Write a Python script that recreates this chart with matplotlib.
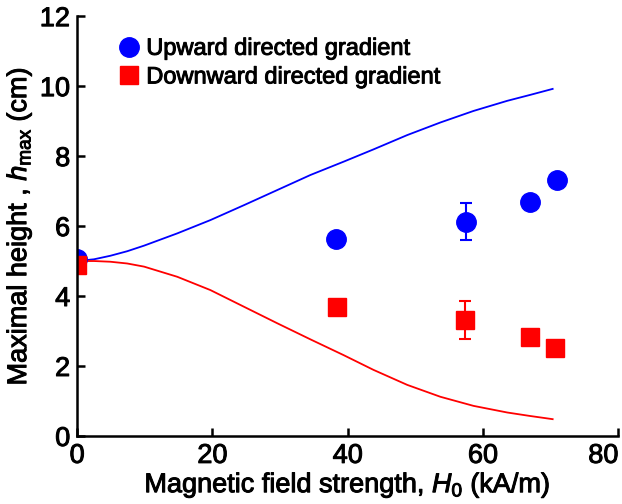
import matplotlib.pyplot as plt
import matplotlib.patheffects as pe

plt.rcParams['font.family'] = ['Liberation Sans', 'DejaVu Sans']
plt.rcParams['mathtext.fontset'] = 'custom'
plt.rcParams['mathtext.rm'] = 'Liberation Sans'
plt.rcParams['mathtext.it'] = 'Liberation Sans:italic'

# measured points
up_x = [0, 38.3, 57.5, 67.0, 70.9]
up_y = [5.05, 5.62, 6.12, 6.7, 7.33]
up_err = [0, 0, 0.53, 0, 0]

down_x = [0, 38.4, 57.4, 66.9, 70.7]
down_y = [4.88, 3.7, 3.31, 2.82, 2.51]
down_err = [0, 0, 0.54, 0, 0]

# model curves
curve_x = [0, 2.5, 4.9, 7.4, 9.9, 14.8, 19.7, 24.7, 29.6, 34.5, 39.4, 43.8, 48.8, 53.7, 58.6, 63.6, 67.0, 70.3]
curve_up = [5.0, 5.05, 5.15, 5.28, 5.44, 5.79, 6.17, 6.6, 7.03, 7.46, 7.84, 8.19, 8.6, 8.96, 9.29, 9.58, 9.75, 9.92]
curve_down = [5.0, 5.0, 4.98, 4.93, 4.84, 4.55, 4.17, 3.69, 3.22, 2.76, 2.31, 1.89, 1.46, 1.12, 0.86, 0.67, 0.57, 0.48]

bold = [pe.withStroke(linewidth=0.7, foreground='black')]

fig = plt.figure(figsize=(6.22, 5.04), dpi=100)
ax = fig.add_axes([0.124, 0.135, 0.870, 0.833])

ax.plot(curve_x, curve_up, color='#0000ff', lw=1.3)
ax.plot(curve_x, curve_down, color='#ff0000', lw=1.3)

ax.errorbar(up_x, up_y, yerr=up_err, fmt='o', color='#0000ff', ms=14,
            capsize=4, elinewidth=1.5, capthick=1.5, label='Upward directed gradient')
ax.errorbar(down_x, down_y, yerr=down_err, fmt='s', color='#ff0000', ms=13.5,
            capsize=4, elinewidth=1.5, capthick=1.5, label='Downward directed gradient')

ax.set_xlim(0, 80)
ax.set_ylim(0, 12)
ax.set_xticks([0, 20, 40, 60, 80])
ax.set_yticks([0, 2, 4, 6, 8, 10, 12])
for s in ['top', 'right']:
    ax.spines[s].set_visible(False)
for s in ['left', 'bottom']:
    ax.spines[s].set_linewidth(1.8)
ax.tick_params(direction='in', length=6, width=1.8, labelsize=19.5, pad=5)
for lab in ax.get_xticklabels() + ax.get_yticklabels():
    lab.set_path_effects(bold)
ax.get_xticklabels()[-1].set_horizontalalignment('right')
ax.get_xticklabels()[-1].set_x(80)

ax.set_xlabel(r'Magnetic field strength, $H_0$ (kA/m)', fontsize=19.5, labelpad=1,
              path_effects=bold)
ax.set_ylabel(r'Maximal height , $h_{\rm max}$ (cm)', fontsize=19.5, labelpad=4,
              path_effects=bold)

handles, labels = ax.get_legend_handles_labels()
leg = ax.legend([h[0] for h in handles], labels, loc='upper left', bbox_to_anchor=(0.034, 0.999),
                frameon=False, fontsize=17, handletextpad=0.25, labelspacing=0.28,
                handlelength=1.0)
for t in leg.get_texts():
    t.set_path_effects(bold)

fig.savefig('out.png', dpi=100)
